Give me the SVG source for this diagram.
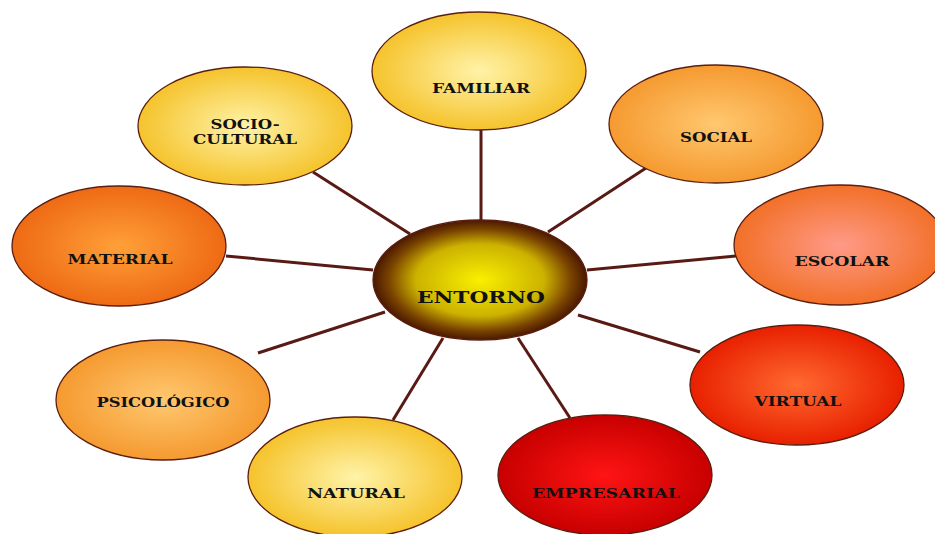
<svg xmlns="http://www.w3.org/2000/svg" width="935" height="534" viewBox="0 0 935 534">
<defs>
<radialGradient id="gYellow" cx="50%" cy="50%" r="50%"><stop offset="0" stop-color="#fff3a8"/><stop offset="1" stop-color="#f5c32c"/></radialGradient>
<radialGradient id="gLOrange" cx="50%" cy="50%" r="50%"><stop offset="0" stop-color="#ffc870"/><stop offset="1" stop-color="#f59a30"/></radialGradient>
<radialGradient id="gEscolar" cx="50%" cy="50%" r="50%"><stop offset="0" stop-color="#ff9a88"/><stop offset="1" stop-color="#f27028"/></radialGradient>
<radialGradient id="gMaterial" cx="50%" cy="50%" r="50%"><stop offset="0" stop-color="#ffa038"/><stop offset="1" stop-color="#ee6a14"/></radialGradient>
<radialGradient id="gVirtual" cx="50%" cy="50%" r="50%"><stop offset="0" stop-color="#ff6a30"/><stop offset="1" stop-color="#e82000"/></radialGradient>
<radialGradient id="gRed" cx="50%" cy="50%" r="50%"><stop offset="0" stop-color="#ff1414"/><stop offset="1" stop-color="#c80000"/></radialGradient>
<radialGradient id="gCenter" cx="50%" cy="50%" r="50%"><stop offset="0" stop-color="#faf000"/><stop offset="0.6" stop-color="#ccb200"/><stop offset="0.85" stop-color="#7a4400"/><stop offset="1" stop-color="#4a1800"/></radialGradient>
</defs>
<style>
.n ellipse{stroke:#5a1e10;stroke-width:1.3}
.n text{font-family:"DejaVu Serif","Liberation Serif",serif;font-weight:bold;font-size:13px;fill:#111;text-anchor:middle}
#connectors line{stroke:#5a1a14;stroke-width:3}
</style>
<rect width="935" height="534" fill="#ffffff"/>
<g id="connectors">
<line x1="481" y1="130" x2="481" y2="222"/>
<line x1="548" y1="232" x2="646" y2="168"/>
<line x1="587" y1="270" x2="736" y2="256"/>
<line x1="578" y1="315" x2="700" y2="352"/>
<line x1="518" y1="338" x2="570" y2="418"/>
<line x1="443" y1="338" x2="393" y2="420"/>
<line x1="385" y1="312" x2="258" y2="353"/>
<line x1="373" y1="270" x2="226" y2="256"/>
<line x1="410" y1="234" x2="313" y2="172"/>
</g>
<g id="familiar" class="n"><ellipse cx="479" cy="71" rx="107" ry="59" fill="url(#gYellow)"/><text x="481" y="93" textLength="98" lengthAdjust="spacingAndGlyphs">FAMILIAR</text></g>
<g id="social" class="n"><ellipse cx="716" cy="124" rx="107" ry="59" fill="url(#gLOrange)"/><text x="716" y="142" textLength="72" lengthAdjust="spacingAndGlyphs">SOCIAL</text></g>
<g id="escolar" class="n"><ellipse cx="840" cy="245" rx="106" ry="60" fill="url(#gEscolar)"/><text x="842" y="266" textLength="95" lengthAdjust="spacingAndGlyphs">ESCOLAR</text></g>
<g id="virtual" class="n"><ellipse cx="797" cy="385" rx="107" ry="60" fill="url(#gVirtual)"/><text x="798" y="406" textLength="87" lengthAdjust="spacingAndGlyphs">VIRTUAL</text></g>
<g id="empresarial" class="n"><ellipse cx="605" cy="475" rx="107" ry="60" fill="url(#gRed)"/><text x="606" y="498" textLength="148" lengthAdjust="spacingAndGlyphs">EMPRESARIAL</text></g>
<g id="natural" class="n"><ellipse cx="355" cy="477" rx="107" ry="60" fill="url(#gYellow)"/><text x="356" y="498" textLength="98" lengthAdjust="spacingAndGlyphs">NATURAL</text></g>
<g id="psicologico" class="n"><ellipse cx="163" cy="400" rx="107" ry="60" fill="url(#gLOrange)"/><text x="163" y="407" textLength="133" lengthAdjust="spacingAndGlyphs">PSICOLÓGICO</text></g>
<g id="material" class="n"><ellipse cx="119" cy="246" rx="107" ry="60" fill="url(#gMaterial)"/><text x="120" y="264" textLength="105" lengthAdjust="spacingAndGlyphs">MATERIAL</text></g>
<g id="sociocultural" class="n"><ellipse cx="245" cy="126" rx="107" ry="59" fill="url(#gYellow)"/><text x="245" y="129" textLength="69" lengthAdjust="spacingAndGlyphs">SOCIO-</text><text x="245" y="144" textLength="104" lengthAdjust="spacingAndGlyphs">CULTURAL</text></g>
<g id="entorno" class="n"><ellipse cx="480" cy="280" rx="107" ry="60" fill="url(#gCenter)" stroke="#4a1400"/><text x="481" y="303" textLength="128" lengthAdjust="spacingAndGlyphs" style="font-size:17px">ENTORNO</text></g>
</svg>
